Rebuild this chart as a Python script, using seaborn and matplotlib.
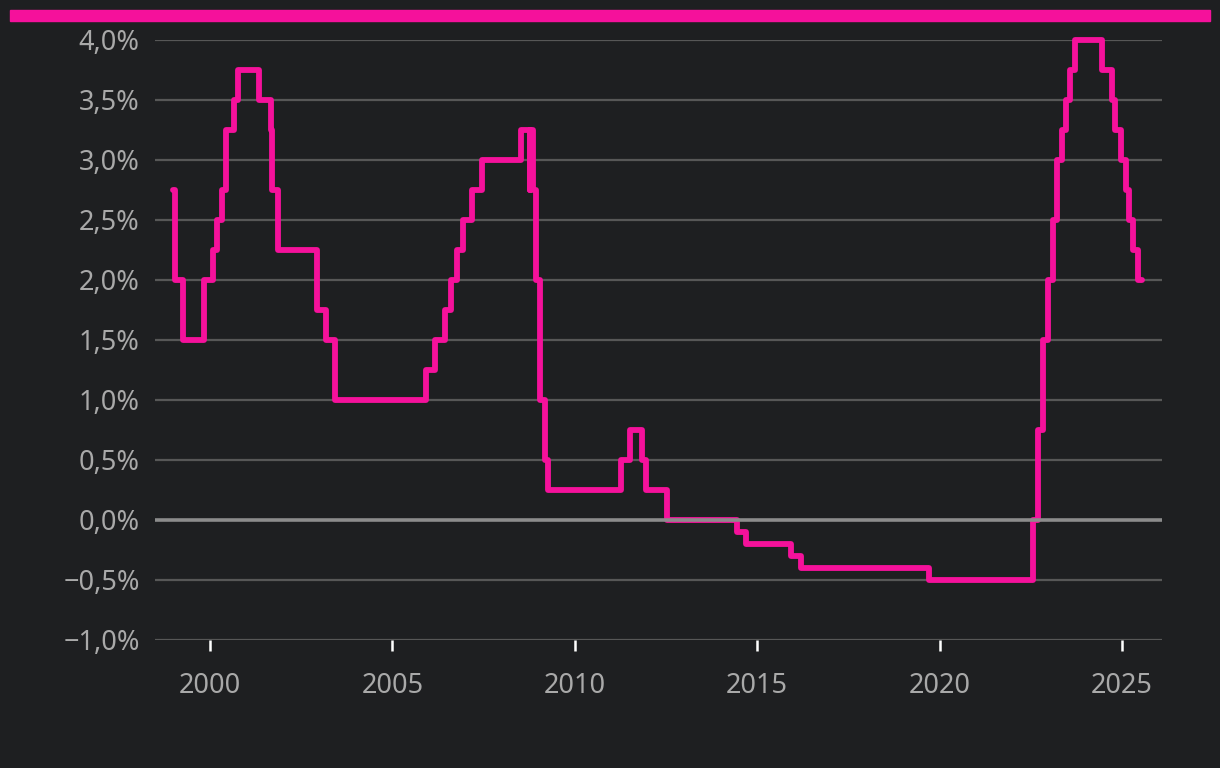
import matplotlib
matplotlib.use("Agg")
import matplotlib.pyplot as plt
import matplotlib.dates as mdates
import matplotlib.ticker as mticker
import seaborn as sns
import pandas as pd

# ECB deposit facility rate (change dates and new rate, %)
change_dates = [
    "1999-01-01", "1999-01-22", "1999-04-09", "1999-11-05", "2000-02-04",
    "2000-03-17", "2000-04-28", "2000-06-09", "2000-09-01", "2000-10-06",
    "2001-05-11", "2001-08-31", "2001-09-18", "2001-11-09", "2002-12-06",
    "2003-03-07", "2003-06-06", "2005-12-06", "2006-03-08", "2006-06-15",
    "2006-08-09", "2006-10-11", "2006-12-13", "2007-03-14", "2007-06-13",
    "2008-07-09", "2008-10-08", "2008-10-09", "2008-11-12", "2008-12-10",
    "2009-01-21", "2009-03-11", "2009-04-08", "2011-04-13", "2011-07-13",
    "2011-11-09", "2011-12-14", "2012-07-11", "2014-06-11", "2014-09-10",
    "2015-12-09", "2016-03-16", "2019-09-18", "2022-07-27", "2022-09-14",
    "2022-11-02", "2022-12-21", "2023-02-08", "2023-03-22", "2023-05-10",
    "2023-06-21", "2023-08-02", "2023-09-20", "2024-06-12", "2024-09-18",
    "2024-10-23", "2024-12-18", "2025-02-05", "2025-03-12", "2025-04-23",
    "2025-06-11", "2025-07-15",
]
rates = [
    2.75, 2.00, 1.50, 2.00, 2.25,
    2.50, 2.75, 3.25, 3.50, 3.75,
    3.50, 3.25, 2.75, 2.25, 1.75,
    1.50, 1.00, 1.25, 1.50, 1.75,
    2.00, 2.25, 2.50, 2.75, 3.00,
    3.25, 2.75, 3.25, 2.75, 2.00,
    1.00, 0.50, 0.25, 0.50, 0.75,
    0.50, 0.25, 0.00, -0.10, -0.20,
    -0.30, -0.40, -0.50, 0.00, 0.75,
    1.50, 2.00, 2.50, 3.00, 3.25,
    3.50, 3.75, 4.00, 3.75, 3.50,
    3.25, 3.00, 2.75, 2.50, 2.25,
    2.00, 2.00,
]
y_ticks = [-1.0, -0.5, 0.0, 0.5, 1.0, 1.5, 2.0, 2.5, 3.0, 3.5, 4.0]
x_tick_years = [2000, 2005, 2010, 2015, 2020, 2025]

df = pd.DataFrame({"date": pd.to_datetime(change_dates), "rate": rates})

BG = "#1e1f21"
PINK = "#f5119b"
TXT = "#a9a9a9"

sns.set_theme(style="dark")
plt.rcParams["font.family"] = ["Noto Sans", "DejaVu Sans"]

fig = plt.figure(figsize=(12.2, 7.68), dpi=100, facecolor=BG)
ax = fig.add_axes([155 / 1220, 1 - 640 / 768, (1162 - 155) / 1220, 600 / 768])
ax.set_facecolor(BG)

# top pink bar
fig.patches.append(plt.Rectangle((10 / 1220, 1 - 21 / 768), 1200 / 1220, 11 / 768,
                                 transform=fig.transFigure, color=PINK, zorder=0))

sns.lineplot(data=df, x="date", y="rate", ax=ax, color=PINK, linewidth=4.2,
             drawstyle="steps-post", solid_joinstyle="round",
             solid_capstyle="round", clip_on=False, zorder=3)

ax.set_ylim(-1.0, 4.0)
ax.set_xlim(pd.Timestamp("1998-07-01"), pd.Timestamp("2026-02-05"))
ax.set_yticks(y_ticks)
for t in y_ticks:
    if t == 0:
        ax.axhline(t, color="#8c8c8c", linewidth=2.6, zorder=4)
    else:
        ax.axhline(t, color="#575757", linewidth=1.6, zorder=1)

def fmt(v, pos):
    s = f"{abs(v):.1f}".replace(".", ",") + "%"
    return ("\u2212" + s) if v < 0 else s

ax.yaxis.set_major_formatter(mticker.FuncFormatter(fmt))
ax.set_xticks([pd.Timestamp(f"{y}-01-01") for y in x_tick_years])
ax.xaxis.set_major_formatter(mdates.DateFormatter("%Y"))

ax.tick_params(axis="y", left=False, length=0, pad=11, labelsize=19.5, labelcolor=TXT)
ax.tick_params(axis="x", bottom=True, length=8, width=1.8, color="#ffffff",
               direction="out", pad=15, labelsize=19.5, labelcolor=TXT)
ax.set_xlabel("")
ax.set_ylabel("")
ax.grid(False)
for s in ax.spines.values():
    s.set_visible(False)

fig.savefig("out.png", dpi=100, facecolor=BG)
